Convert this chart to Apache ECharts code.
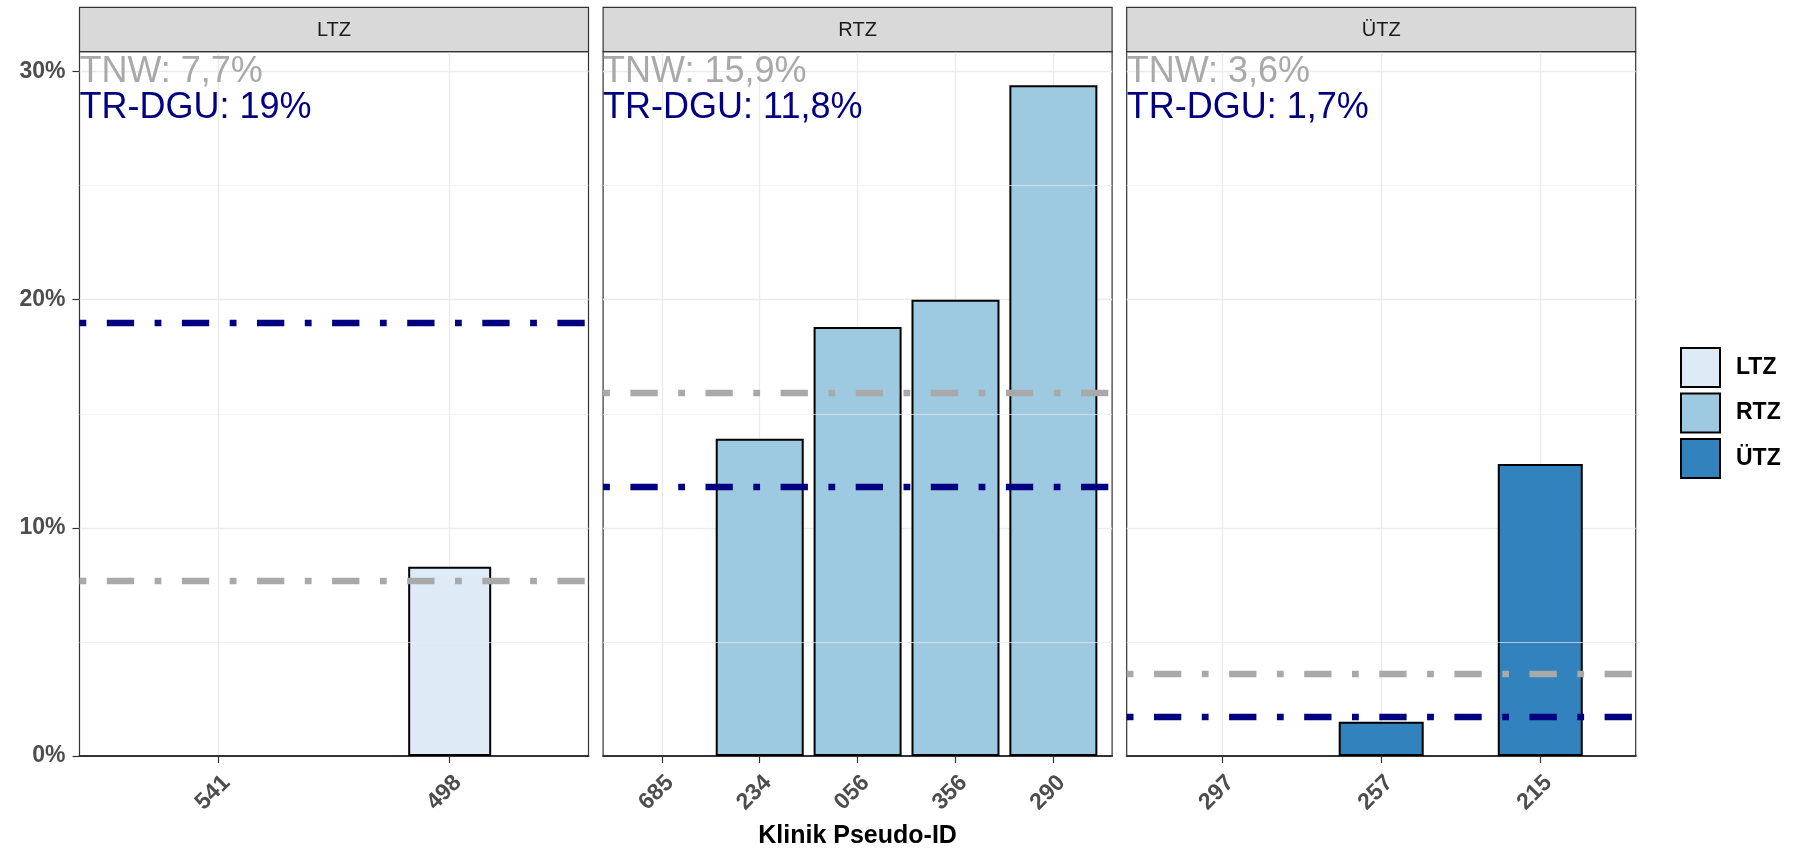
<!DOCTYPE html>
<html><head><meta charset="utf-8">
<script src="https://cdn.jsdelivr.net/npm/echarts@6/dist/echarts.min.js"></script>
<style>html,body{margin:0;padding:0;background:#fff}#c{width:1799px;height:849px}</style>
</head><body><div id="c"></div>
<script>
// ---- data ----
const panels = ['LTZ', 'RTZ', 'ÜTZ'];
const catLTZ = ['541', '498'];
const valLTZ = [0, 8.3];
const catRTZ = ['685', '234', '056', '356', '290'];
const valRTZ = [0, 13.9, 18.8, 20.0, 29.4];
const catUTZ = ['297', '257', '215'];
const valUTZ = [0, 1.5, 12.8];
const tnw = [7.7, 15.9, 3.6];
const trdgu = [19, 11.8, 1.7];
const yTicks = [0, 10, 20, 30];
const yMinor = [5, 15, 25];
const yMax = 30.87;
const xTitle = 'Klinik Pseudo-ID';

// ---- style / layout ----
const cats = [catLTZ, catRTZ, catUTZ];
const vals = [valLTZ, valRTZ, valUTZ];
const fills = ['#DEEBF7', '#9ECAE1', '#3182BD'];
const barWidths = [83, 88, 85];
const FONT = '"Liberation Sans", Arial, sans-serif';
const PL = 79.5, PW = 509, GAP = 14.6, PT = 51.7, PB = 756, ST = 7.3;
const fmt = v => String(v).replace('.', ',') + '%';

const grid = [], xAxis = [], yAxis = [], series = [], graphic = [];
panels.forEach((p, i) => {
  const left = PL + i * (PW + GAP);
  const n = cats[i].length;
  const idx = cats[i].map((c, k) => k + 1);
  grid.push({left: left, top: PT, width: PW, height: PB - PT, show: true,
    borderColor: '#333333', borderWidth: 1.2, backgroundColor: 'transparent', containLabel: false});
  xAxis.push({
    gridIndex: i, type: 'value', min: 0.4, max: n + 0.6,
    axisLine: {show: true, lineStyle: {color: '#333333', width: 2}},
    axisTick: {show: true, customValues: idx, length: 7, lineStyle: {color: '#333333', width: 1.2}},
    axisLabel: {show: true, customValues: idx, rotate: 45, margin: 15, verticalAlign: 'top',
      formatter: v => cats[i][Math.round(v) - 1],
      fontSize: 23, fontWeight: 'bold', color: '#4D4D4D', fontFamily: FONT},
    splitLine: {show: true, lineStyle: {color: '#EBEBEB', width: 1.3}}
  });
  yAxis.push({
    gridIndex: i, type: 'value', min: 0, max: yMax,
    axisLine: {show: false},
    axisTick: {show: i === 0, customValues: yTicks, length: 7, lineStyle: {color: '#333333', width: 1.2}},
    axisLabel: {show: i === 0, customValues: yTicks, margin: 14, formatter: '{value}%',
      fontSize: 23, fontWeight: 'bold', color: '#4D4D4D', fontFamily: FONT},
    splitLine: {show: true, lineStyle: {color: '#EBEBEB', width: 1.3}}
  });
  // minor grid helper
  series.push({
    type: 'line', xAxisIndex: i, yAxisIndex: i, data: [], z: 1, silent: true,
    markLine: {silent: true, symbol: 'none', label: {show: false}, animation: false,
      lineStyle: {color: '#EBEBEB', width: 0.7, type: 'solid'},
      data: yMinor.map(v => ({yAxis: v}))}
  });
  const dashStyle = {type: [6.8, 20.5, 27.3, 20.5], width: 6.3, cap: 'butt'};
  series.push({
    type: 'bar', name: p, xAxisIndex: i, yAxisIndex: i, barWidth: barWidths[i],
    data: vals[i].map((v, k) => (v === 0
      ? {value: [k + 1, v], itemStyle: {borderWidth: 0}}
      : {value: [k + 1, v]})),
    itemStyle: {color: fills[i], borderColor: '#000000', borderWidth: 2},
    animation: false,
    markLine: {silent: true, symbol: 'none', label: {show: false}, animation: false,
      data: [
        {yAxis: tnw[i], lineStyle: Object.assign({color: '#A9A9A9'}, dashStyle)},
        {yAxis: trdgu[i], lineStyle: Object.assign({color: '#000080'}, dashStyle)}
      ]}
  });
  // strip
  graphic.push({type: 'rect', shape: {x: left, y: ST, width: PW, height: PT - ST},
    style: {fill: '#D9D9D9', stroke: '#333333', lineWidth: 1.2}, z: 10});
  graphic.push({type: 'text', x: left + PW / 2, y: (ST + PT) / 2 + 1, z: 11,
    style: {text: p, fill: '#1A1A1A', font: '20px ' + FONT, textAlign: 'center', textVerticalAlign: 'middle', align: 'center', verticalAlign: 'middle'}});
  // annotations
  graphic.push({type: 'text', x: left, y: 72, z: 11,
    style: {text: 'TNW: ' + fmt(tnw[i]), fill: '#A9A9A9', font: '36px ' + FONT, textAlign: 'left', textVerticalAlign: 'middle', align: 'left', verticalAlign: 'middle'}});
  graphic.push({type: 'text', x: left, y: 108, z: 11,
    style: {text: 'TR-DGU: ' + fmt(trdgu[i]), fill: '#000080', font: '36px ' + FONT, textAlign: 'left', textVerticalAlign: 'middle', align: 'left', verticalAlign: 'middle'}});
});
graphic.push({type: 'text', x: PL + (3 * PW + 2 * GAP) / 2, y: 836, z: 11,
  style: {text: xTitle, fill: '#000000', font: 'bold 25px ' + FONT, textAlign: 'center', textVerticalAlign: 'middle', align: 'center', verticalAlign: 'middle'}});

const chart = echarts.init(document.getElementById('c'), null, {renderer: 'canvas'});
chart.setOption({
  backgroundColor: '#FFFFFF',
  animation: false,
  textStyle: {fontFamily: FONT},
  grid, xAxis, yAxis, series, graphic,
  legend: {
    data: panels, orient: 'vertical', left: 1680, top: 347, padding: 0,
    itemWidth: 39, itemHeight: 39, itemGap: 4.5, icon: 'rect',
    itemStyle: {borderColor: '#000000', borderWidth: 2},
    textStyle: {fontSize: 23, fontWeight: 'bold', color: '#000000', fontFamily: FONT, padding: [0, 0, 0, 11]},
    selectedMode: false
  }
});
</script></body></html>
